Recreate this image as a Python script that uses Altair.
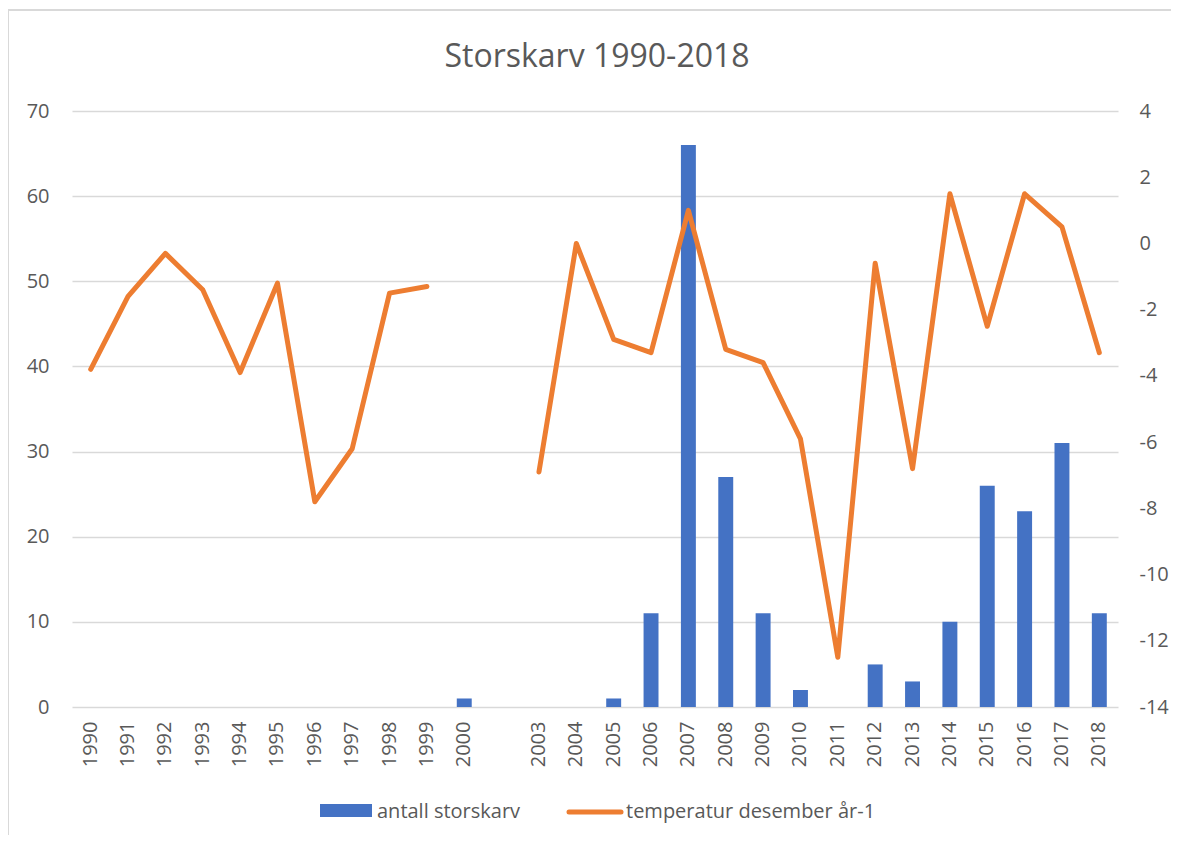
import altair as alt
import pandas as pd

years = ["1990", "1991", "1992", "1993", "1994", "1995", "1996", "1997", "1998", "1999",
         "2000", " ", "2003", "2004", "2005", "2006", "2007", "2008", "2009", "2010",
         "2011", "2012", "2013", "2014", "2015", "2016", "2017", "2018"]
antall = [None] * 10 + [1, None, None, None, 1, 11, 66, 27, 11, 2, None, 5, 3, 10, 26, 23, 31, 11]
temperatur = [-3.8, -1.6, -0.3, -1.4, -3.9, -1.2, -7.8, -6.2, -1.5, -1.3,
              None, None, -6.9, 0.0, -2.9, -3.3, 1.0, -3.2, -3.6, -5.9,
              -12.5, -0.6, -6.8, 1.5, -2.5, 1.5, 0.5, -3.3]
left_ticks = [0, 10, 20, 30, 40, 50, 60, 70]
right_ticks = [-14, -12, -10, -8, -6, -4, -2, 0, 2, 4]
series_names = ["antall storskarv", "temperatur desember år-1"]
title_text = "Storskarv 1990-2018"

FONT = "Open Sans"
GRAY = "#595959"
BLUE = "#4472C4"
ORANGE = "#ED7D31"

bar_df = pd.DataFrame({"year": years, "antall": antall}).dropna()
line_rows = []
for i, (y, t) in enumerate(zip(years, temperatur)):
    if t is not None:
        line_rows.append({"year": y, "temp": t, "seg": "a" if i < 10 else "b"})
line_df = pd.DataFrame(line_rows)

W, H = 1046, 596

x_enc = alt.X(
    "year:N",
    scale=alt.Scale(domain=years, paddingInner=0, paddingOuter=0),
    axis=alt.Axis(title=None, labelAngle=-90, labelFont=FONT, labelFontSize=20,
                  labelColor=GRAY, domain=False, ticks=False, labelPadding=14),
)

bars = alt.Chart(bar_df).mark_bar(color=BLUE, width={"band": 0.4}).encode(
    x=x_enc,
    y=alt.Y("antall:Q",
            scale=alt.Scale(domain=[0, 70], nice=False, zero=True),
            axis=alt.Axis(values=left_ticks, title=None, grid=True, gridColor="#d9d9d9",
                          gridWidth=1.5, domain=False, ticks=False, labelFont=FONT,
                          labelFontSize=20, labelColor=GRAY, labelPadding=23,
                          labelExpr="toString(datum.value)")),
)

line = alt.Chart(line_df).mark_line(color=ORANGE, strokeWidth=5, strokeCap="round",
                                    strokeJoin="round").encode(
    x=x_enc,
    y=alt.Y("temp:Q",
            scale=alt.Scale(domain=[-14, 4], nice=False, zero=False),
            axis=alt.Axis(orient="right", values=right_ticks, title=None, grid=False,
                          domain=False, ticks=False, labelFont=FONT, labelFontSize=20,
                          labelColor=GRAY, labelPadding=21,
                          labelExpr="toString(datum.value)")),
    detail="seg:N",
)

one = pd.DataFrame({"a": [0]})

border = alt.Chart(one).mark_rect(fill=None, stroke="#d9d9d9", strokeWidth=2).encode(
    x=alt.value(-64), x2=alt.value(W + 120), y=alt.value(-101), y2=alt.value(H + 150)
)

title = alt.Chart(one).mark_text(align="center", baseline="alphabetic", font=FONT,
                                 fontSize=32, color=GRAY).encode(
    x=alt.value(W / 2 + 2), y=alt.value(-44), text=alt.value(title_text)
)

leg_rect = alt.Chart(one).mark_rect(color=BLUE).encode(
    x=alt.value(248), x2=alt.value(300), y=alt.value(693), y2=alt.value(706)
)
leg_text1 = alt.Chart(one).mark_text(align="left", baseline="middle", font=FONT,
                                     fontSize=20, color=GRAY).encode(
    x=alt.value(305), y=alt.value(701), text=alt.value(series_names[0])
)
leg_line = alt.Chart(one).mark_rule(color=ORANGE, strokeWidth=5, strokeCap="round").encode(
    x=alt.value(497), x2=alt.value(549), y=alt.value(701)
)
leg_text2 = alt.Chart(one).mark_text(align="left", baseline="middle", font=FONT,
                                     fontSize=20, color=GRAY).encode(
    x=alt.value(554), y=alt.value(701), text=alt.value(series_names[1])
)

chart = alt.layer(border, title, bars, line, leg_rect, leg_text1, leg_line, leg_text2).resolve_scale(
    y="independent"
).properties(
    width=W,
    height=H,
    padding={"left": 64, "top": 103, "right": 53, "bottom": 128},
    autosize=alt.AutoSizeParams(type="none"),
).configure_view(stroke=None)

chart.save("out.html", embed_options={"renderer": "svg", "actions": False})
